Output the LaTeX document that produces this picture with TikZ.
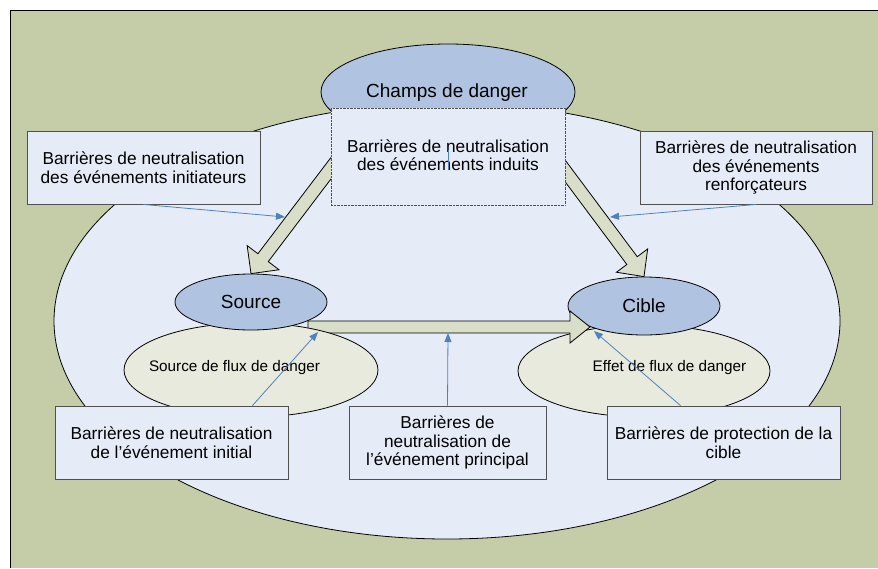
\documentclass[tikz,border=0pt]{standalone}
\usepackage{fontspec}
\setmainfont{Liberation Sans}
\usetikzlibrary{shapes.geometric,arrows.meta,calc}

\definecolor{fond}{RGB}{197,204,168}
\definecolor{champ}{RGB}{230,236,247}
\definecolor{bulle}{RGB}{176,196,226}
\definecolor{zone}{RGB}{232,234,221}
\definecolor{kaki}{RGB}{217,222,200}
\definecolor{trait}{RGB}{79,129,189}
\definecolor{bord}{RGB}{80,80,80}

% grosse fleche : depart, pointe, demi-largeur du corps, demi-largeur de la tete
\newcommand{\grossefleche}[4]{
	\coordinate (base) at ($(#2)!20pt!(#1)$);
	\draw[fill=kaki, line width=0.8pt]
		($(#1)!#3!90:(#2)$) -- ($(base)!#3!90:(#2)$) -- ($(base)!#4!90:(#2)$) -- (#2)
		-- ($(base)!#4!-90:(#2)$) -- ($(base)!#3!-90:(#2)$) -- ($(#1)!#3!-90:(#2)$) -- cycle;
}

\begin{document}
\begin{tikzpicture}[x=1pt, y=-1pt,
	every node/.style={align=center, font=\fontsize{17.3}{18.5}\selectfont},
	pole/.style={ellipse, draw, fill=bulle, inner sep=0pt, line width=0.8pt, font=\fontsize{19}{22}\selectfont},
	zonef/.style={ellipse, draw, fill=zone, inner sep=0pt, line width=0.8pt},
	petit/.style={font=\fontsize{15.3}{18}\selectfont},
	barriere/.style={rectangle, draw=bord, fill=champ, inner sep=0pt, line width=0.9pt, minimum width=233, minimum height=73},
	fleche/.style={draw=trait, line width=0.8pt, -{Triangle[length=9pt,width=7pt]}}]
	\useasboundingbox (0,0) rectangle (878,568);
	\fill[fond] (10,10) rectangle (878,568);
	\draw[line width=0.8pt] (10,568) -- (10,10) -- (878,10);
	\draw[fill=champ, line width=0.8pt] (447,321) ellipse (393 and 218);

	% champs de danger et evenements induits
	\node[pole, minimum width=254, minimum height=96] (champs) at (448,92) {};
	\node (champstxt) at (447,93) [font=\fontsize{19}{22}\selectfont] {Champs de danger};
	\coordinate (depg) at (341,155);
	\coordinate (depd) at (554,156);
	\node[pole, minimum width=152, minimum height=56, draw=none, fill=none] (source) at (251,302) {};
	\node[pole, minimum width=152, minimum height=58, draw=none, fill=none] (cible) at (644,306) {};
	\grossefleche{depg}{source.north}{6.5pt}{20pt}
	\grossefleche{depd}{cible.north}{6.5pt}{19.5pt}
	\node[rectangle, draw=bord, densely dotted, fill=champ, minimum width=234, minimum height=97, inner sep=0pt] (induits) at (448,156.5) {};
	\node (induitstxt) at (448,155) {Barri\`eres de neutralisation\\des \'ev\'enements induits};
	\draw[trait, line width=0.8pt] (448,150) -- (448,169);

	% source et cible
	\node[zonef, minimum width=252, minimum height=92] (zcible) at (644,371) {};
	\node[petit] (zcibletxt) at (669.5,368) {Effet de flux de danger};
	\node[pole, minimum width=152, minimum height=58] at (cible) {Cible};
	\coordinate (deph) at (308,327);
	\coordinate (pointeh) at (590,327);
	\grossefleche{deph}{pointeh}{6pt}{16pt}
	\node[zonef, minimum width=254, minimum height=94] (zsource) at (251,370) {};
	\node[petit] (zsourcetxt) at (234.5,368) {Source de flux de danger};
	\node[pole, minimum width=152, minimum height=56] at (source) {Source};

	% barrieres
	\node[barriere] (initiateurs) at (143.5,167.5) {Barri\`eres de neutralisation\\des \'ev\'enements initiateurs};
	\node[barriere, minimum width=232] (renforcateurs) at (756,167.5) {Barri\`eres de neutralisation\\des \'ev\'enements\\renfor\c{c}ateurs};
	\node[barriere] (initial) at (171.5,442.5) {Barri\`eres de neutralisation\\de l'\'ev\'enement initial};
	\node[barriere, minimum width=197] (principal) at (447.5,442.5) {Barri\`eres de\\neutralisation de\\l'\'ev\'enement principal};
	\node[barriere] (protection) at (723.5,442.5) {Barri\`eres de protection de la\\cible};

	\coordinate (p1) at (285,217);
	\coordinate (p2) at (610,217);
	\coordinate (p3) at (318,332);
	\coordinate (p4) at (448,333);
	\coordinate (p5) at (594,331);
	\draw[fleche] (initiateurs.south) -- (p1);
	\draw[fleche] (renforcateurs.south) -- (p2);
	\draw[fleche] ($(initial.north)+(81,0)$) -- (p3);
	\draw[fleche] (principal.north) -- (p4);
	\draw[fleche] ($(protection.north)+(-43,0)$) -- (p5);
\end{tikzpicture}
\end{document}
